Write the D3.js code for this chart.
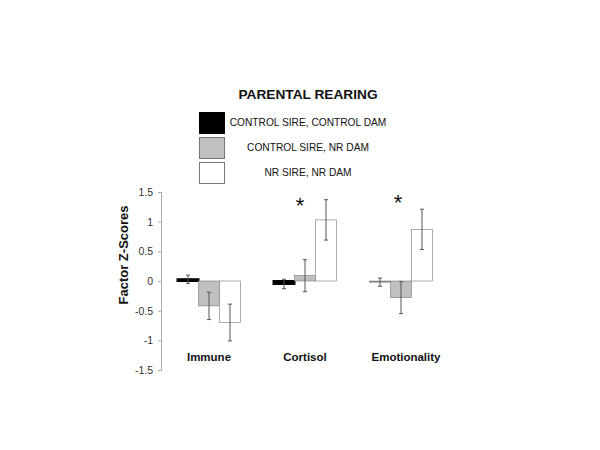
<!DOCTYPE html>
<html><head><meta charset="utf-8">
<script src="https://cdn.jsdelivr.net/npm/d3@7"></script>
<style>body{margin:0;background:#fff}svg{display:block}text{font-family:"Liberation Sans",Arial,sans-serif}</style>
</head><body><svg id="c" width="600" height="450"></svg>
<script>
const categories = ["Immune", "Cortisol", "Emotionality"];
const seriesNames = ["CONTROL SIRE, CONTROL DAM", "CONTROL SIRE, NR DAM", "NR SIRE, NR DAM"];
const seriesFill = ["#000000", "#c0c0c0", "#ffffff"];
const ctrlCtrl = [0.03, -0.05, -0.02];
const ctrlNr = [-0.42, 0.09, -0.28];
const nrNr = [-0.70, 1.03, 0.87];
const errCtrlCtrl = [0.07, 0.08, 0.07];
const errCtrlNr = [0.23, 0.27, 0.27];
const errNrNr = [0.31, 0.34, 0.34];
const yTicks = [1.5, 1, 0.5, 0, -0.5, -1, -1.5];
const yTickLabels = ["1.5", "1", "0.5", "0", "-0.5", "-1", "-1.5"];
const significant = [false, true, true];

const values = [ctrlCtrl, ctrlNr, nrNr];
const errs = [errCtrlCtrl, errCtrlNr, errNrNr];

const svg = d3.select("#c");
const y = d3.scaleLinear().domain([-1.5, 1.5]).range([370, 192]);
const x0 = d3.scaleBand().domain(categories).range([161, 449]).paddingInner(0.344).paddingOuter(0.172);
const x1 = d3.scaleBand().domain(d3.range(3)).range([0, x0.bandwidth()]);

// axis
const ax = svg.append("g").attr("transform", "translate(161,0)")
  .call(d3.axisLeft(y).tickValues(yTicks).tickSize(3).tickPadding(5).tickFormat((d, i) => yTickLabels[i]));
ax.select(".domain").attr("stroke", "#aaa");
ax.selectAll(".tick line").attr("stroke", "#aaa");
ax.selectAll(".tick text").attr("fill", "#333").style("font-size", "10.5px");

// bars
categories.forEach((c, i) => {
  const g = svg.append("g").attr("transform", `translate(${x0(c)},0)`);
  for (let s = 0; s < 3; s++) {
    const v = values[s][i];
    const yt = y(Math.max(0, v)), yb = y(Math.min(0, v));
    const thin = s === 0 && Math.abs(v) < 0.03;
    g.append("rect").attr("x", x1(s)).attr("y", yt).attr("width", x1.bandwidth())
      .attr("height", Math.max(0, yb - yt))
      .attr("fill", thin ? "#888" : seriesFill[s]).attr("stroke", s === 0 ? (thin ? "#888" : "#000") : "#777")
      .attr("stroke-width", s === 0 && !thin ? 2 : 0.6);
  }
  for (let s = 0; s < 3; s++) {
    const v = values[s][i], e = errs[s][i];
    const cx = x1(s) + x1.bandwidth() / 2;
    g.append("line").attr("x1", cx).attr("x2", cx).attr("y1", y(v + e)).attr("y2", y(v - e)).attr("stroke", "#555").attr("stroke-width", 1);
    [v + e, v - e].forEach(t => g.append("line").attr("x1", cx - 2).attr("x2", cx + 2).attr("y1", y(t)).attr("y2", y(t)).attr("stroke", "#555"));
  }
  svg.append("text").attr("x", x0(c) + x0.bandwidth() / 2 + (i === 2 ? 5 : 0)).attr("y", 361)
    .attr("text-anchor", "middle").style("font-size", "11.5px").style("font-weight", "bold").attr("fill", "#111").text(c);
  if (significant[i]) {
    svg.append("text").attr("x", x0(c) + x0.bandwidth() / 2 - 5 + (i === 2 ? 2 : 0)).attr("y", i === 1 ? 213 : 210)
      .attr("text-anchor", "middle").style("font-size", "22px").attr("fill", "#111").text("*");
  }
});

// y title
svg.append("text").attr("transform", "translate(128,255) rotate(-90)").attr("text-anchor", "middle")
  .style("font-size", "13px").style("font-weight", "bold").attr("fill", "#111").text("Factor Z-Scores");

// legend
svg.append("text").attr("x", 308).attr("y", 99).attr("text-anchor", "middle")
  .style("font-size", "13.7px").style("font-weight", "bold").attr("fill", "#111").text("PARENTAL REARING");
seriesNames.forEach((n, s) => {
  const yy = 112 + s * 25;
  svg.append("rect").attr("x", 199.5).attr("y", yy + 0.5).attr("width", 25).attr("height", 21)
    .attr("fill", seriesFill[s]).attr("stroke", s === 0 ? "#000" : "#777");
  svg.append("text").attr("x", 308).attr("y", yy + 13.5).attr("text-anchor", "middle")
    .style("font-size", "10.2px").attr("fill", "#111").text(n);
});
</script></body></html>
